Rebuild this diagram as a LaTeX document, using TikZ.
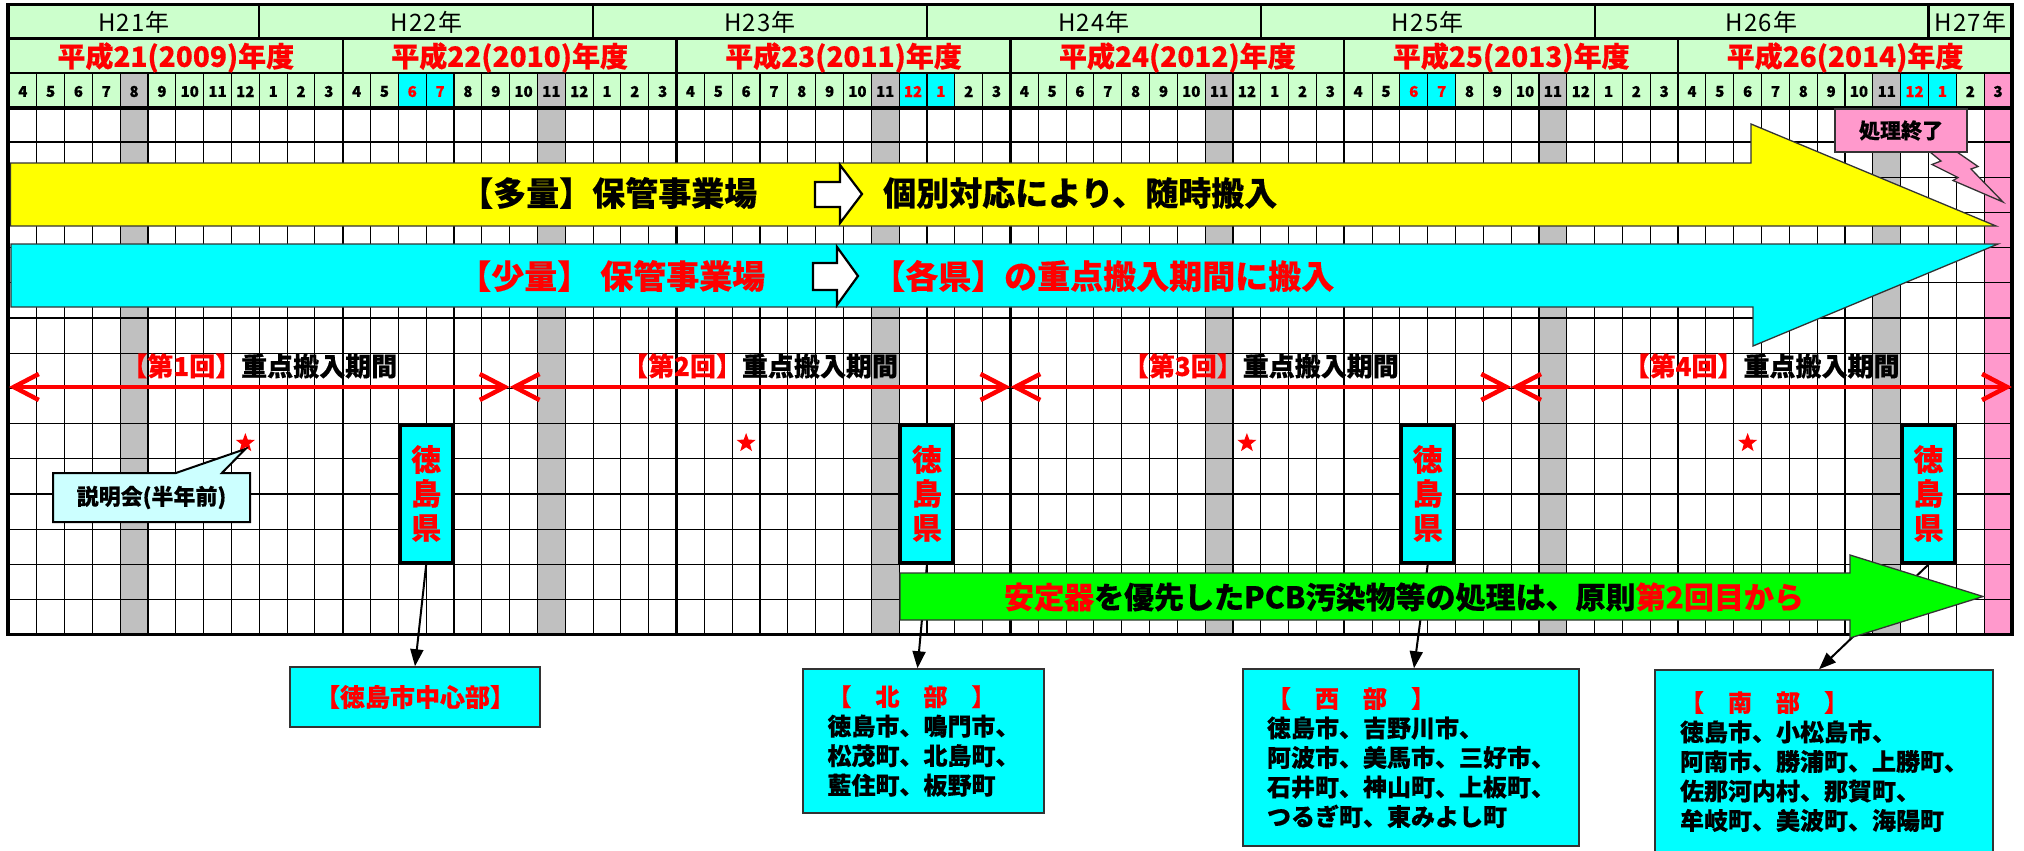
\documentclass[tikz,border=0pt]{standalone}
\usepackage{fontspec}
\setmainfont{Noto Sans CJK JP}[BoldFeatures={FakeBold=0.4}]
\usetikzlibrary{arrows.meta,shapes.geometric,shapes.callouts}
\definecolor{hdrgreen}{HTML}{CCFFCC}
\definecolor{cellgray}{HTML}{C0C0C0}
\definecolor{cyanc}{HTML}{00FFFF}
\definecolor{pinkc}{HTML}{FF99CC}
\definecolor{yellowc}{HTML}{FFFF00}
\definecolor{greenc}{HTML}{00FF00}
\definecolor{lightcyan}{HTML}{CCFFFF}
\definecolor{redc}{HTML}{FF0000}
\definecolor{edgegray}{HTML}{333333}
\newcommand\myfs[1]{\fontsize{#1pt}{#1pt}\selectfont}
\def\xo{8.9}
\def\cw{27.82}
\begin{document}
\begin{tikzpicture}[x=1pt,y=-1pt,
  gridline/.style={line width=1.1pt},
  yearlbl/.style={font=\myfs{24}\addfontfeatures{LetterSpace=5}, inner sep=0pt},
  fylbl/.style={font=\bfseries\myfs{28}, text=redc, inner sep=0pt},
  mlabel/.style={font=\bfseries\myfs{15}, inner sep=0pt},
  bigtxt/.style={font=\bfseries\myfs{33}, inner sep=0pt},
  arrowedge/.style={draw=edgegray, line width=1.3pt},
  whitearrow/.style={draw=black, line width=2.2pt, fill=white, line join=miter},
  redarrow/.style={draw=redc, line width=4.5pt, >={Straight Barb[length=25pt,width=26pt]}, <->},
  periodlbl/.style={font=\bfseries\myfs{26}, inner sep=0pt},
  redstar/.style={star, star points=5, star point ratio=2.4, fill=redc, minimum size=20pt, inner sep=0pt},
  tkbox/.style={draw=black, line width=4pt, fill=cyanc, minimum width=53pt, minimum height=138pt, inner sep=0pt, align=center, text=redc, font=\bfseries\fontsize{30pt}{34pt}\selectfont},
  regbox/.style={draw=edgegray, line width=1.5pt, fill=cyanc, inner sep=0pt, align=left, font=\bfseries\fontsize{24pt}{29.5pt}\selectfont},
  downarrow/.style={draw=black, line width=2pt, -{Triangle[length=17pt,width=13pt]}}
]
\useasboundingbox (0,0) rectangle (2024,851);
\fill[white] (0,0) rectangle (2024,851);
% header background
\fill[hdrgreen] (\xo,4.3) rectangle (2011.9,108);
\foreach \i in {4,19,31,43,55,67}
  \fill[cellgray] ({\xo+\i*\cw},73) rectangle ({\xo+(\i+1)*\cw},634.7);
\foreach \i in {14,15,32,33,50,51,68,69}
  \fill[cyanc] ({\xo+\i*\cw},73) rectangle ({\xo+(\i+1)*\cw},108);
\fill[pinkc] ({\xo+71*\cw},73) rectangle ({\xo+72*\cw},634.7);
% grid
\foreach \i in {1,...,71}
  \draw[gridline] ({\xo+\i*\cw},73) -- ({\xo+\i*\cw},634.7);
\foreach \k in {0,...,13}
  \draw[gridline] (\xo,{142+\k*35.2}) -- (2011.9,{142+\k*35.2});
\foreach \i in {12,24,36,48,60}
  \draw[line width=2.2pt] ({\xo+\i*\cw},39) -- ({\xo+\i*\cw},634.7);
\foreach \i in {9,21,33,45,57,69}
  \draw[line width=2.2pt] ({\xo+\i*\cw},4.3) -- ({\xo+\i*\cw},39);
\draw[line width=3pt] (\xo,39) -- (2011.9,39);
\draw[line width=1.3pt] (\xo,73) -- (2011.9,73);
\draw[line width=3.5pt] (\xo,108) -- (2011.9,108);
% header texts
\foreach \n/\a/\b in {21/0/9,22/9/21,23/21/33,24/33/45,25/45/57,26/57/69,27/69/72}
  \node[yearlbl] (cy\n) at ({\xo+(\a+\b)/2*\cw},22.5) {H\n{}年};
\foreach \n/\y/\c in {21/2009/6,22/2010/18,23/2011/30,24/2012/42,25/2013/54,26/2014/66}
  \node[fylbl] (fy\n) at ({\xo+\c*\cw},57.5) {平成\n{}(\y{})年度};
\foreach \i in {0,...,71}{
  \pgfmathtruncatemacro\mm{mod(\i+3,12)+1}
  \pgfmathtruncatemacro\isred{(\i==14)||(\i==15)||(\i==32)||(\i==33)||(\i==50)||(\i==51)||(\i==68)||(\i==69)}
  \ifnum\isred=1 \def\mcol{redc}\else\def\mcol{black}\fi
  \node[mlabel, text=\mcol] (m\i) at ({\xo+(\i+0.5)*\cw},91.5) {\mm};
}
% yellow arrow
\draw[arrowedge, fill=yellowc] (10.5,163) -- (1751,163) -- (1751,124) -- (1996,226) -- (10.5,226) -- cycle;
\node[bigtxt, anchor=west] (tayo1) at (460,193) {【多量】保管事業場};
\draw[whitearrow] (815,182) -- (840,182) -- (840,165) -- (862,194) -- (840,223) -- (840,207) -- (815,207) -- cycle;
\node[bigtxt, anchor=west] (tayo2) at (883,193) {個別対応により、随時搬入};
% cyan arrow
\draw[arrowedge, fill=cyanc] (11,244) -- (1998,244) -- (1753,346) -- (1753,307) -- (11,307) -- cycle;
\node[bigtxt, text=redc, anchor=west] (shou1) at (458,276) {【少量】\hspace{10pt}保管事業場};
\draw[whitearrow] (813,263) -- (837,263) -- (837,247) -- (858,276) -- (837,305) -- (837,290) -- (813,290) -- cycle;
\node[bigtxt, text=redc, anchor=west] (shou2) at (872,276) {【各県】の重点搬入期間に搬入};
% outer border
\draw[line width=3.5pt] (8,4.3) rectangle (2011.9,634.7);
% periods
\foreach \k in {0,...,3}
  \draw[redarrow] ({\xo+18*\k*\cw},387) -- ({\xo+18*(\k+1)*\cw},387);
\foreach \k/\m in {1/9,2/27,3/45,4/63}
  \node[periodlbl] (p\k) at ({\xo+\m*\cw},366) {\textcolor{redc}{【第\k{}回】}重点搬入期間};
% stars
\foreach \k in {0,...,3}
  \node[redstar] (st\k) at ({\xo+(8.5+18*\k)*\cw},443) {};
\node[rectangle callout, callout absolute pointer={([yshift=-6pt]st0.center)}, callout pointer width=46pt,
  draw=black, line width=2pt, fill=lightcyan, minimum width=197pt, minimum height=49pt, inner sep=0pt,
  font=\bfseries\myfs{22}] (setsumei) at (151.5,497.5) {説明会(半年前)};
% Tokushima boxes
\foreach \k in {1,...,4}
  \node[tkbox] (tk\k) at ({\xo+(15+18*(\k-1))*\cw},493.5) {徳\\島\\県};
% bottom boxes
\node[regbox, minimum width=250pt, minimum height=60pt, text=redc, font=\bfseries\myfs{25}] (chushin) at (415,697) {【徳島市中心部】};
\node[regbox, minimum width=241pt, minimum height=144pt] (nbox) at (923.5,741) {\textcolor{redc}{【　北　部　】}\\徳島市、鳴門市、\\松茂町、北島町、\\藍住町、板野町};
\node[regbox, minimum width=336pt, minimum height=177pt] (wbox) at (1411,757.5) {\textcolor{redc}{【　西　部　】}\\徳島市、吉野川市、\\阿波市、美馬市、三好市、\\石井町、神山町、上板町、\\つるぎ町、東みよし町};
\node[regbox, minimum width=338pt, minimum height=183pt] (sbox) at (1824,761.5) {\textcolor{redc}{【　南　部　】}\\徳島市、小松島市、\\阿南市、勝浦町、上勝町、\\佐那河内村、那賀町、\\牟岐町、美波町、海陽町};
% connectors
\draw[downarrow] (tk1.south) -- (chushin.north);
\draw[downarrow] (tk2.south) -- ([xshift=-6pt]nbox.north);
\draw[downarrow] (tk3.south) -- ([xshift=3pt]wbox.north);
\draw[downarrow] (tk4.south) -- ([xshift=-5pt]sbox.north);
% green arrow
\draw[arrowedge, fill=greenc] (900,573) -- (1850,573) -- (1850,555) -- (1983,596.5) -- (1850,638) -- (1850,620) -- (900,620) -- cycle;
\node[font=\bfseries\myfs{30}, inner sep=0pt] (greentxt) at (1404,597) {\textcolor{redc}{安定器}を優先したPCB汚染物等の処理は、原則\textcolor{redc}{第2回目から}};
% end callout
\draw[arrowedge, fill=pinkc, line join=miter] (1930,152) -- (1941,161) -- (1932,164.5) -- (1958,177.5) -- (1953,180.5) -- (2003,202) -- (1971,169) -- (1978,166.5) -- (1957,152) -- cycle;
\node[draw=edgegray, line width=1.3pt, fill=pinkc, minimum width=132pt, minimum height=43pt, inner sep=0pt, font=\bfseries\myfs{21}] (shori) at (1901,130.5) {処理終了};
\end{tikzpicture}
\end{document}
